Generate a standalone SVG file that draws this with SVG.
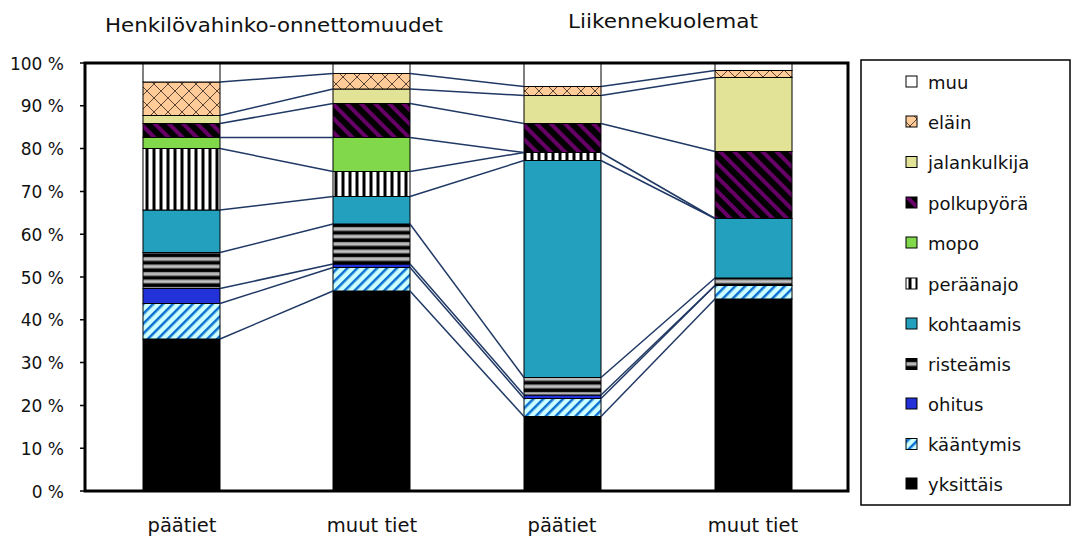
<svg xmlns="http://www.w3.org/2000/svg" width="1072" height="538" viewBox="0 0 1072 538">
<style>
text{font-family:"DejaVu Sans","Liberation Sans",sans-serif;font-size:18px;fill:#111}
.ax{text-anchor:end;font-size:17px}
.cat{text-anchor:middle;font-size:19.5px}
.ttl{font-size:20px}
.seg{stroke:#000;stroke-width:1}
.con line{stroke:#1F3864;stroke-width:1.5}
.lg{stroke:#000;stroke-width:1}
</style>
<defs>
<pattern id="pCross" width="14" height="14" patternUnits="userSpaceOnUse">
<rect width="14" height="14" fill="#FFCC99"/>
<path d="M0,0 L14,14 M14,0 L0,14" stroke="#5b4636" stroke-width="1"/>
</pattern>
<pattern id="pPolku" width="10" height="10" patternUnits="userSpaceOnUse" patternTransform="rotate(-45)">
<rect width="10" height="10" fill="#000"/>
<rect width="4" height="10" fill="#660066"/>
</pattern>
<pattern id="pKaan" width="7" height="7" patternUnits="userSpaceOnUse" patternTransform="rotate(45)">
<rect width="7" height="7" fill="#CCFFFF"/>
<rect width="2.5" height="7" fill="#0A6FD0"/>
</pattern>
<pattern id="pPera" width="7" height="10" patternUnits="userSpaceOnUse">
<rect width="7" height="10" fill="#000"/>
<rect x="1.5" width="4" height="10" fill="#fff"/>
</pattern>
<pattern id="pRist" width="10" height="7.5" patternUnits="userSpaceOnUse">
<rect width="10" height="7.5" fill="#000"/>
<rect y="2" width="10" height="4" fill="#9e9e9e"/>
<rect y="3.3" width="10" height="1.4" fill="#c8c8c8"/>
</pattern>
</defs>

<text x="105" y="32" class="ttl" textLength="338" lengthAdjust="spacingAndGlyphs">Henkilövahinko-onnettomuudet</text>
<text x="568" y="28" class="ttl" textLength="190" lengthAdjust="spacingAndGlyphs">Liikennekuolemat</text>

<g id="axis">
<path d="M80,63H85M80,105.8H85M80,148.6H85M80,191.4H85M80,234.2H85M80,277H85M80,319.8H85M80,362.6H85M80,405.4H85M80,448.2H85M80,491H85" stroke="#000" stroke-width="1.5"/>
<text x="64" y="69.5" class="ax">100 %</text>
<text x="64" y="112.3" class="ax">90 %</text>
<text x="64" y="155.1" class="ax">80 %</text>
<text x="64" y="197.9" class="ax">70 %</text>
<text x="64" y="240.7" class="ax">60 %</text>
<text x="64" y="283.5" class="ax">50 %</text>
<text x="64" y="326.3" class="ax">40 %</text>
<text x="64" y="369.1" class="ax">30 %</text>
<text x="64" y="411.9" class="ax">20 %</text>
<text x="64" y="454.7" class="ax">10 %</text>
<text x="64" y="497.5" class="ax">0 %</text>
<text x="182" y="532" class="cat">päätiet</text>
<text x="372" y="532" class="cat">muut tiet</text>
<text x="562" y="532" class="cat">päätiet</text>
<text x="753" y="532" class="cat">muut tiet</text>
</g>

<g id="bar1">
<rect class="seg" x="143" y="339" width="77" height="152" fill="#000"/>
<rect class="seg" x="143" y="303.5" width="77" height="35.5" fill="url(#pKaan)"/>
<rect class="seg" x="143" y="288.5" width="77" height="15" fill="#2231D8"/>
<rect class="seg" x="143" y="252.5" width="77" height="36" fill="url(#pRist)"/>
<rect class="seg" x="143" y="210" width="77" height="42.5" fill="#23A0BE"/>
<rect class="seg" x="143" y="148.5" width="77" height="61.5" fill="url(#pPera)"/>
<rect class="seg" x="143" y="137.5" width="77" height="11" fill="#80D84A"/>
<rect class="seg" x="143" y="123.5" width="77" height="14" fill="url(#pPolku)"/>
<rect class="seg" x="143" y="115.5" width="77" height="8" fill="#E2E396"/>
<rect class="seg" x="143" y="82" width="77" height="33.5" fill="url(#pCross)"/>
<rect class="seg" x="143" y="63" width="77" height="19" fill="#fff"/>
</g>
<g id="bar2">
<rect class="seg" x="333" y="291" width="77" height="200" fill="#000"/>
<rect class="seg" x="333" y="267.5" width="77" height="23.5" fill="url(#pKaan)"/>
<rect class="seg" x="333" y="264" width="77" height="3.5" fill="#2231D8"/>
<rect class="seg" x="333" y="224" width="77" height="40" fill="url(#pRist)"/>
<rect class="seg" x="333" y="196.5" width="77" height="27.5" fill="#23A0BE"/>
<rect class="seg" x="333" y="171.5" width="77" height="25" fill="url(#pPera)"/>
<rect class="seg" x="333" y="137.5" width="77" height="34" fill="#80D84A"/>
<rect class="seg" x="333" y="103.5" width="77" height="34" fill="url(#pPolku)"/>
<rect class="seg" x="333" y="89" width="77" height="14.5" fill="#E2E396"/>
<rect class="seg" x="333" y="73.5" width="77" height="15.5" fill="url(#pCross)"/>
<rect class="seg" x="333" y="63" width="77" height="10.5" fill="#fff"/>
</g>
<g id="bar3">
<rect class="seg" x="524" y="416.5" width="77" height="74.5" fill="#000"/>
<rect class="seg" x="524" y="398.5" width="77" height="18" fill="url(#pKaan)"/>
<rect class="seg" x="524" y="395" width="77" height="3.5" fill="#2231D8"/>
<rect class="seg" x="524" y="377.5" width="77" height="17.5" fill="url(#pRist)"/>
<rect class="seg" x="524" y="160.5" width="77" height="217" fill="#23A0BE"/>
<rect class="seg" x="524" y="152.5" width="77" height="8" fill="url(#pPera)"/>
<rect class="seg" x="524" y="123.5" width="77" height="29" fill="url(#pPolku)"/>
<rect class="seg" x="524" y="95.5" width="77" height="28" fill="#E2E396"/>
<rect class="seg" x="524" y="86.5" width="77" height="9" fill="url(#pCross)"/>
<rect class="seg" x="524" y="63" width="77" height="23.5" fill="#fff"/>
</g>
<g id="bar4">
<rect class="seg" x="715" y="299" width="77" height="192" fill="#000"/>
<rect class="seg" x="715" y="285.5" width="77" height="13.5" fill="url(#pKaan)"/>
<rect class="seg" x="715" y="278" width="77" height="7.5" fill="url(#pRist)"/>
<rect class="seg" x="715" y="218.5" width="77" height="59.5" fill="#23A0BE"/>
<rect class="seg" x="715" y="151.5" width="77" height="67" fill="url(#pPolku)"/>
<rect class="seg" x="715" y="77.5" width="77" height="74" fill="#E2E396"/>
<rect class="seg" x="715" y="70.5" width="77" height="7" fill="url(#pCross)"/>
<rect class="seg" x="715" y="63" width="77" height="7.5" fill="#fff"/>
</g>

<g id="connectors" class="con">
<line x1="220" y1="339" x2="333" y2="291"/>
<line x1="220" y1="303.5" x2="333" y2="267.5"/>
<line x1="220" y1="288.5" x2="333" y2="264"/>
<line x1="220" y1="252.5" x2="333" y2="224"/>
<line x1="220" y1="210" x2="333" y2="196.5"/>
<line x1="220" y1="148.5" x2="333" y2="171.5"/>
<line x1="220" y1="137.5" x2="333" y2="137.5"/>
<line x1="220" y1="123.5" x2="333" y2="103.5"/>
<line x1="220" y1="115.5" x2="333" y2="89"/>
<line x1="220" y1="82" x2="333" y2="73.5"/>
<line x1="220" y1="63" x2="333" y2="63"/>
<line x1="410" y1="291" x2="524" y2="416.5"/>
<line x1="410" y1="267.5" x2="524" y2="398.5"/>
<line x1="410" y1="264" x2="524" y2="395"/>
<line x1="410" y1="224" x2="524" y2="377.5"/>
<line x1="410" y1="196.5" x2="524" y2="160.5"/>
<line x1="410" y1="171.5" x2="524" y2="152.5"/>
<line x1="410" y1="137.5" x2="524" y2="152.5"/>
<line x1="410" y1="103.5" x2="524" y2="123.5"/>
<line x1="410" y1="89" x2="524" y2="95.5"/>
<line x1="410" y1="73.5" x2="524" y2="86.5"/>
<line x1="410" y1="63" x2="524" y2="63"/>
<line x1="601" y1="416.5" x2="715" y2="299"/>
<line x1="601" y1="398.5" x2="715" y2="285.5"/>
<line x1="601" y1="395" x2="715" y2="285.5"/>
<line x1="601" y1="377.5" x2="715" y2="278"/>
<line x1="601" y1="160.5" x2="715" y2="218.5"/>
<line x1="601" y1="152.5" x2="715" y2="218.5"/>
<line x1="601" y1="123.5" x2="715" y2="151.5"/>
<line x1="601" y1="95.5" x2="715" y2="77.5"/>
<line x1="601" y1="86.5" x2="715" y2="70.5"/>
<line x1="601" y1="63" x2="715" y2="63"/>
</g>

<rect id="plotframe" x="85" y="63" width="763" height="428" fill="none" stroke="#000" stroke-width="3"/>

<g id="legend">
<rect x="861" y="60" width="209" height="445" fill="#fff" stroke="#000" stroke-width="1.5"/>
<rect class="lg" x="906" y="76" width="11" height="11" fill="#fff"/>
<text x="928" y="88.5">muu</text>
<rect class="lg" x="906" y="116" width="11" height="11" fill="url(#pCross)"/>
<text x="928" y="128.5">eläin</text>
<rect class="lg" x="906" y="156.5" width="11" height="11" fill="#E2E396"/>
<text x="928" y="169">jalankulkija</text>
<rect class="lg" x="906" y="197" width="11" height="11" fill="url(#pPolku)"/>
<text x="928" y="209.5">polkupyörä</text>
<rect class="lg" x="906" y="237" width="11" height="11" fill="#80D84A"/>
<text x="928" y="249.5">mopo</text>
<rect class="lg" x="906" y="278" width="11" height="11" fill="url(#pPera)"/>
<text x="928" y="290.5">peräänajo</text>
<rect class="lg" x="906" y="318" width="11" height="11" fill="#23A0BE"/>
<text x="928" y="330.5">kohtaamis</text>
<rect class="lg" x="906" y="358.5" width="11" height="11" fill="url(#pRist)"/>
<text x="928" y="371">risteämis</text>
<rect class="lg" x="906" y="398" width="11" height="11" fill="#2231D8"/>
<text x="928" y="410.5">ohitus</text>
<rect class="lg" x="906" y="438.5" width="11" height="11" fill="url(#pKaan)"/>
<text x="928" y="451">kääntymis</text>
<rect class="lg" x="906" y="478" width="11" height="11" fill="#000"/>
<text x="928" y="490.5">yksittäis</text>
</g>
</svg>
